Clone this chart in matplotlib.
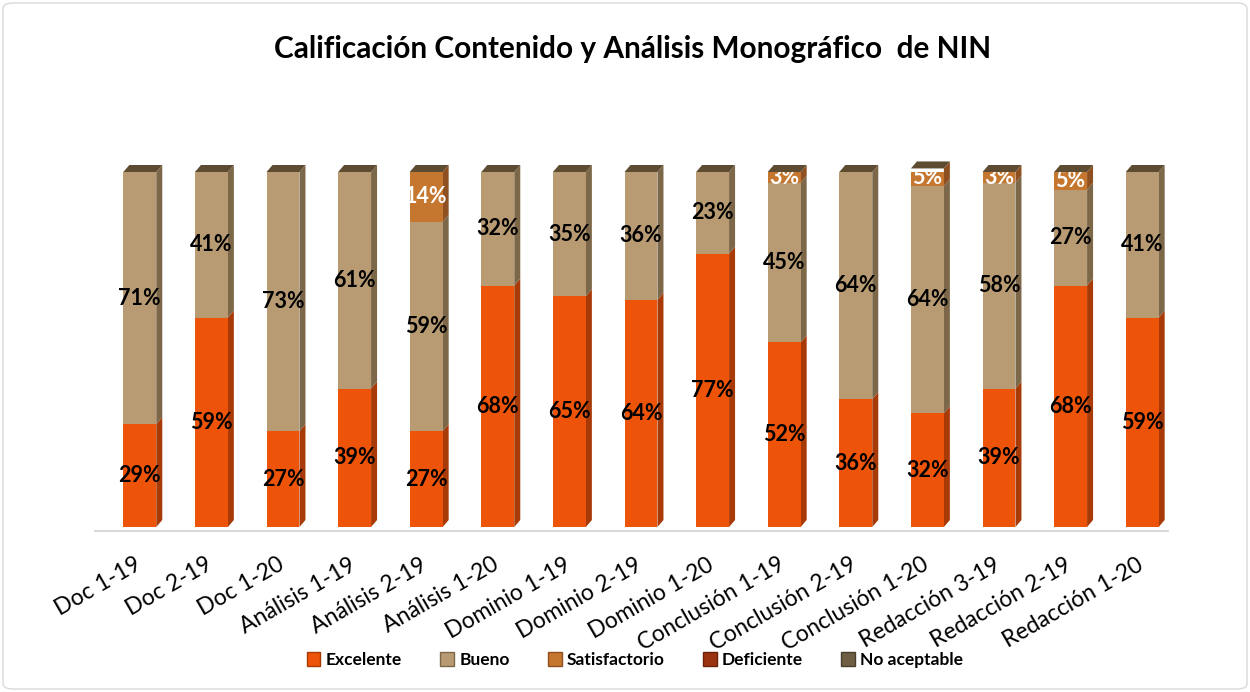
import matplotlib
matplotlib.use("Agg")
import matplotlib.pyplot as plt
from matplotlib.patches import Polygon, FancyBboxPatch, Patch
import numpy as np

categories = ["Doc 1-19", "Doc 2-19", "Doc 1-20", "Análisis 1-19", "Análisis 2-19",
              "Análisis 1-20", "Dominio 1-19", "Dominio 2-19", "Dominio 1-20",
              "Conclusión 1-19", "Conclusión 2-19", "Conclusión 1-20",
              "Redacción 3-19", "Redacción 2-19", "Redacción 1-20"]
excelente = [29, 59, 27, 39, 27, 68, 65, 64, 77, 52, 36, 32, 39, 68, 59]
bueno = [71, 41, 73, 61, 59, 32, 35, 36, 23, 45, 64, 64, 58, 27, 41]
satisfactorio = [0, 0, 0, 0, 14, 0, 0, 0, 0, 3, 0, 5, 3, 5, 0]
deficiente = [0] * 15
no_aceptable = [0] * 15
series_names = ["Excelente", "Bueno", "Satisfactorio", "Deficiente", "No aceptable"]
title = "Calificación Contenido y Análisis Monográfico  de NIN"

front = ["#EE5409", "#B89B72", "#C6772F", "#9A3410", "#6E5E44"]
side = ["#A83A08", "#7C6749", "#8E5020", "#6A230A", "#4A3E2C"]
label_col = ["black", "black", "white", "black", "black"]
top_col = "#5E4C32"

plt.rcParams['font.family'] = ['Lato', 'DejaVu Sans']

W, H = 1250, 692
fig = plt.figure(figsize=(W / 100, H / 100), dpi=100)
left, right = 104, 1178
y0, y100 = 527, 172
ax = fig.add_axes([left / W, 1 - y0 / H, (right - left) / W, (y0 - y100) / H])
ax.set_xlim(-0.5, 14.5)
ax.set_ylim(0, 100)
ax.axis("off")

bw = 0.46
dx = 6 / ((right - left) / 15)
dy = 7 / ((y0 - y100) / 100)

series = [excelente, bueno, satisfactorio, deficiente, no_aceptable]
x = np.arange(len(categories))
bottoms = np.zeros(len(categories))
for s, vals in enumerate(series):
    vals = np.array(vals, dtype=float)
    ax.bar(x, vals, bw, bottom=bottoms, color=front[s], edgecolor="none", zorder=3)
    for i in range(len(x)):
        if vals[i] <= 0:
            continue
        xr = x[i] + bw / 2
        b, t = bottoms[i], bottoms[i] + vals[i]
        ax.add_patch(Polygon([[xr, b], [xr + dx, b + dy], [xr + dx, t + dy], [xr, t]],
                             closed=True, color=side[s], lw=0, zorder=2, clip_on=False))
        ax.text(x[i], b + vals[i] / 2, f"{int(vals[i])}%", ha="center", va="center",
                fontsize=15.5, fontweight="bold", color=label_col[s], zorder=5, clip_on=True)
    bottoms += vals

for i in range(len(x)):
    t = bottoms[i]
    xl, xr = x[i] - bw / 2, x[i] + bw / 2
    ax.add_patch(Polygon([[xl, t], [xr, t], [xr + dx, t + dy], [xl + dx, t + dy]],
                         closed=True, color=top_col, lw=0, zorder=4, clip_on=False))

fig.add_artist(plt.Line2D([95 / W, 1168 / W], [1 - 531 / H, 1 - 531 / H],
                          color="#D9D9D9", lw=1.5))

for i, c in enumerate(categories):
    ax.annotate(c, xy=(x[i], 0), xytext=(-6, -27), textcoords="offset pixels",
                ha="right", va="top", rotation=30, rotation_mode="anchor",
                fontsize=16.5, color="#000000", annotation_clip=False)

fig.text(0.506, 1 - 49 / H, title, ha="center", va="center", fontsize=21.4,
         fontweight="bold")

handles = [Patch(facecolor=front[k], edgecolor=side[k]) for k in range(5)]
leg = fig.legend(handles, series_names, loc="center", bbox_to_anchor=(0.508, 1 - 660 / H),
                 ncol=5, frameon=False, prop={"weight": "bold", "size": 12.5},
                 handlelength=0.8, handleheight=0.8, handletextpad=0.3, columnspacing=2.2)

fig.add_artist(FancyBboxPatch((3 / W, 3 / H), 1 - 6 / W, 1 - 6 / H,
                              boxstyle="round,pad=0,rounding_size=0.008",
                              transform=fig.transFigure, fill=False,
                              edgecolor="#D9D9D9", lw=1))

fig.savefig("out.png", dpi=100)
